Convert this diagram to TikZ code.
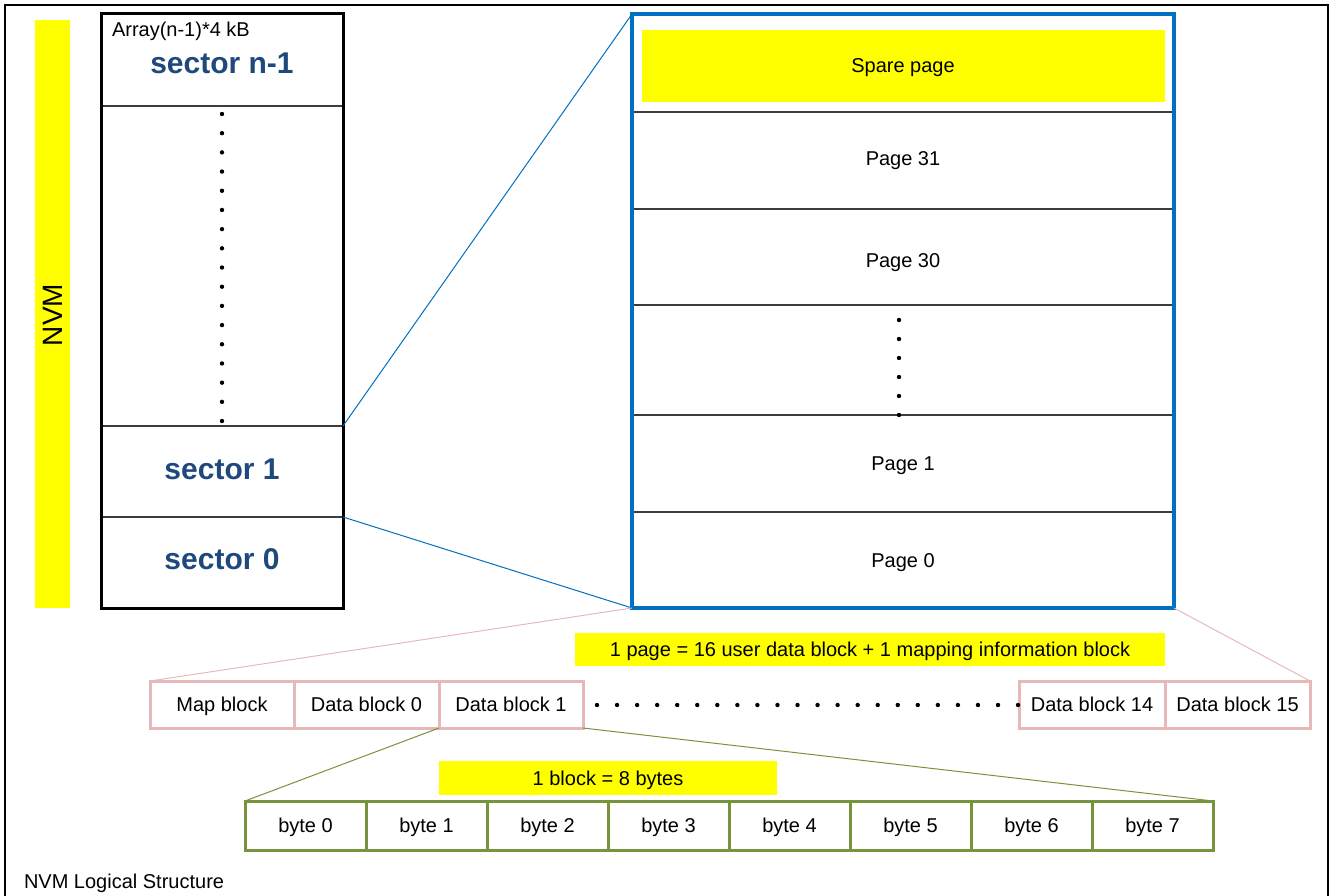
\documentclass[tikz,border=0pt]{standalone}
\usepackage{fontspec}
\setmainfont{Liberation Sans}
\definecolor{secblue}{RGB}{31,73,125}
\definecolor{pgblue}{RGB}{0,112,192}
\definecolor{pinkb}{RGB}{230,185,184}
\definecolor{greenb}{RGB}{119,147,60}
\definecolor{yel}{RGB}{255,255,0}
\definecolor{divgray}{RGB}{60,60,60}
\begin{document}
\begin{tikzpicture}[x=1pt,y=-1pt,
  every node/.style={inner sep=0pt, outer sep=0pt},
  txt/.style={font=\fontsize{20}{24}\selectfont, text height=14.5pt, text depth=0pt},
  sectxt/.style={font=\fontsize{30}{36}\selectfont\bfseries, text=secblue},
  cellbox/.style={draw=divgray, line width=1.2pt, minimum width=#1},
  pinkcell/.style={draw=pinkb, line width=3pt, minimum height=47, minimum width=#1, txt},
  greencell/.style={draw=greenb, line width=3pt, minimum height=49, minimum width=121, txt},
  yelbox/.style={fill=yel, txt},
  dotmark/.style={fill=black, circle, minimum size=4.4pt}
]
\useasboundingbox (0,0) rectangle (1330,896);
% outer frame
\draw[line width=1.5pt] (5,896) -- (5,5) -- (1328,5) -- (1328,896);

% NVM bar
\node[fill=yel, minimum width=35, minimum height=588] (nvmbar) at (52.5,314) {};
\node[rotate=90, font=\fontsize{28}{32}\selectfont] (nvmtxt) at (52.5,315) {NVM};

% sector column
\node[cellbox=242, minimum height=92] (secN) at (222,60) {};
\node[cellbox=242, minimum height=320] (secdots) at (222,266) {};
\node[cellbox=242, minimum height=91] (sec1) at (222,471.5) {};
\node[cellbox=242, minimum height=91] (sec0) at (222,562.5) {};
\node[draw=black, line width=3pt, minimum width=242, minimum height=594] (array) at (222,311) {};
\node[txt, anchor=west] (arrlbl) at (112,29) {Array(n-1)*4 kB};
\node[sectxt] (secNtxt) at (222,63) {sector n-1};
\node[sectxt] (sec1txt) at (222,469) {sector 1};
\node[sectxt] (sec0txt) at (222,559) {sector 0};
\foreach \i in {0,...,16} {
  \node[dotmark] (sd\i) at (222,{114+19.19*\i}) {};
}

% pages column
\node[cellbox=542, minimum height=98] (pspare) at (903,63) {};
\node[fill=yel, minimum width=523, minimum height=72] (spare) at (903.5,66) {};
\node[txt] (sparetxt) at (903,65) {Spare page};
\node[cellbox=542, minimum height=97] (p31) at (903,160.5) {};
\node[cellbox=542, minimum height=96] (p30) at (903,257) {};
\node[cellbox=542, minimum height=110] (pdots) at (903,360) {};
\node[cellbox=542, minimum height=97] (p1) at (903,463.5) {};
\node[cellbox=542, minimum height=96] (p0) at (903,560) {};
\node[txt] (p31txt) at (903,158) {Page 31};
\node[txt] (p30txt) at (903,260) {Page 30};
\node[txt] (p1txt) at (903,463) {Page 1};
\node[txt] (p0txt) at (903,560) {Page 0};
\node[draw=pgblue, line width=3.5pt, minimum width=542, minimum height=594] (pages) at (903,311) {};
\foreach \i in {0,...,5} {
  \node[dotmark] (pd\i) at (899,{320+19*\i}) {};
}

% blue zoom lines
\draw[pgblue, line width=1pt] (sec1.north east) -- (pages.north west);
\draw[pgblue, line width=1pt] (sec1.south east) -- (pages.south west);

% page composition label
\node[yelbox, minimum width=590, minimum height=33] (pagelbl) at (870,649.5) {1 page = 16 user data block + 1 mapping information block};

% block row
\node[pinkcell=144] (map) at (222,704.5) {Map block};
\node[pinkcell=145] (db0) at (366.5,704.5) {Data block 0};
\node[pinkcell=144] (db1) at (511,704.5) {Data block 1};
\node[pinkcell=146] (db14) at (1092,704.5) {Data block 14};
\node[pinkcell=145] (db15) at (1237.5,704.5) {Data block 15};
\foreach \i in {0,...,21} {
  \node[dotmark] (rd\i) at ({597+20.05*\i},705) {};
}

% pink zoom lines
\draw[pinkb, line width=1pt] (pages.south west) -- (map.north west);
\draw[pinkb, line width=1pt] (pages.south east) -- (db15.north east);

% block label
\node[yelbox, minimum width=338, minimum height=34] (blocklbl) at (608,778) {1 block = 8 bytes};

% byte row
\foreach \i in {0,...,7} {
  \node[greencell] (b\i) at ({305.5+121*\i},825.5) {byte \i};
}

% green zoom lines
\draw[greenb, line width=1pt] (db1.south west) -- (b0.north west);
\draw[greenb, line width=1pt] (db1.south east) -- (b7.north east);

% caption
\node[txt, anchor=west] (caption) at (24,881) {NVM Logical Structure};
\end{tikzpicture}
\end{document}
